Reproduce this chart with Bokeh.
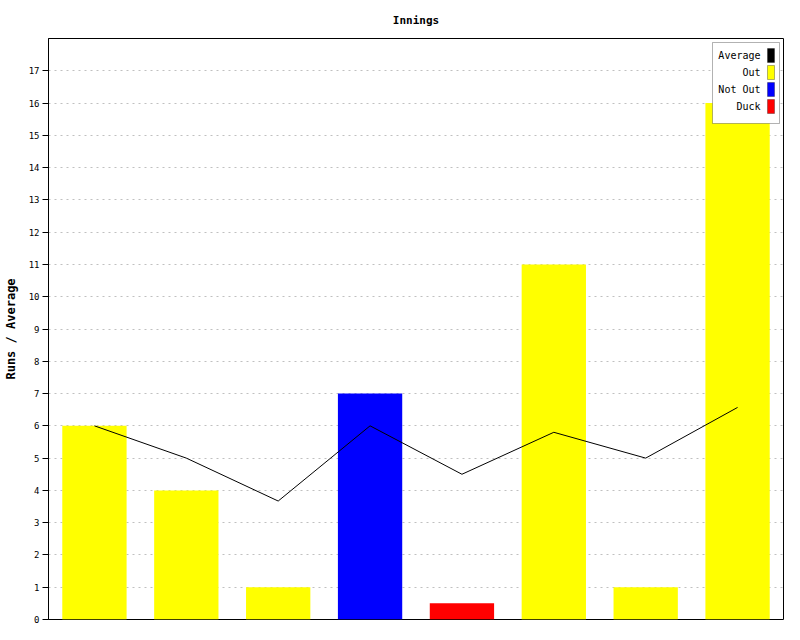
from bokeh.plotting import figure
from bokeh.models import (FactorRange, Range1d, FixedTicker, ColumnDataSource,
                          Label, BoxAnnotation)
from bokeh.embed import file_html
from bokeh.resources import INLINE

# ---- data ----
innings = ["1", "2", "3", "4", "5", "6", "7", "8"]
runs = [6, 4, 1, 7, 0, 11, 1, 16]
bar_heights = [6, 4, 1, 7, 0.5, 11, 1, 16]   # duck shown as a small stub
status = ["Out", "Out", "Out", "Not Out", "Duck", "Out", "Out", "Out"]
average = [6.0, 5.0, 3.67, 6.0, 4.5, 5.8, 5.0, 6.57]
y_ticks = list(range(0, 18))

status_colors = {"Out": "#ffff00", "Not Out": "#0000ff", "Duck": "#ff0000"}
legend_items = [("Average", "#000000"), ("Out", "#ffff00"),
                ("Not Out", "#0000ff"), ("Duck", "#ff0000")]

MONO = "DejaVu Sans Mono"

src = ColumnDataSource(dict(x=innings, top=bar_heights, runs=runs,
                            color=[status_colors[s] for s in status]))

p = figure(width=784, height=624, output_backend="svg", toolbar_location=None,
           x_range=FactorRange(*innings, range_padding=0),
           y_range=Range1d(0, 18),
           min_border_left=47, min_border_right=1,
           min_border_top=37, min_border_bottom=5)

p.title.text = "Innings"
p.title.align = "center"
p.title.text_font = MONO
p.title.text_font_size = "11px"
p.title.text_font_style = "bold"
p.title.text_color = "black"
p.title.standoff = 23

p.outline_line_color = "black"
p.outline_line_width = 1
p.background_fill_color = "white"
p.border_fill_color = "white"

p.xaxis.visible = False
p.xgrid.visible = False

ya = p.yaxis[0]
ya.ticker = FixedTicker(ticks=y_ticks)
ya.axis_label = "Runs / Average"
ya.axis_label_text_font = MONO
ya.axis_label_text_font_size = "12px"
ya.axis_label_text_font_style = "bold"
ya.axis_label_text_color = "black"
ya.axis_label_standoff = 8
ya.major_label_text_font = MONO
ya.major_label_text_font_size = "9px"
ya.major_label_text_color = "black"
ya.major_label_standoff = 3
ya.major_tick_out = 6
ya.major_tick_in = 0
ya.minor_tick_line_color = None
ya.axis_line_color = "black"
ya.major_tick_line_color = "black"

p.ygrid.ticker = FixedTicker(ticks=y_ticks)
p.ygrid.grid_line_color = "#c0c0c0"
p.ygrid.grid_line_dash = "2 4"
p.ygrid.grid_line_width = 1

p.vbar(x="x", top="top", width=0.7, source=src, fill_color="color",
       line_color=None)
p.line(innings, average, line_color="black", line_width=1)

# ---- legend (right-aligned labels, swatches on right; frame screen units) ----
box = BoxAnnotation(left=664, right=731, top=577, bottom=496,
                    left_units="screen", right_units="screen",
                    top_units="screen", bottom_units="screen",
                    fill_color="white", fill_alpha=1,
                    line_color="black", line_width=1, level="overlay")
p.add_layout(box)
for i, (name, col) in enumerate(legend_items):
    yc = 564 - 17 * i
    p.add_layout(Label(x=712, y=yc, x_units="screen", y_units="screen",
                       text=name, text_align="right", text_baseline="middle",
                       text_font=MONO, text_font_size="10px",
                       text_color="black", level="overlay"))
    p.add_layout(BoxAnnotation(left=719, right=726, top=yc + 7, bottom=yc - 7,
                               left_units="screen", right_units="screen",
                               top_units="screen", bottom_units="screen",
                               fill_color=col, fill_alpha=1,
                               line_color="black", line_width=1,
                               level="overlay"))

open("out.html", "w").write(file_html(p, INLINE))
